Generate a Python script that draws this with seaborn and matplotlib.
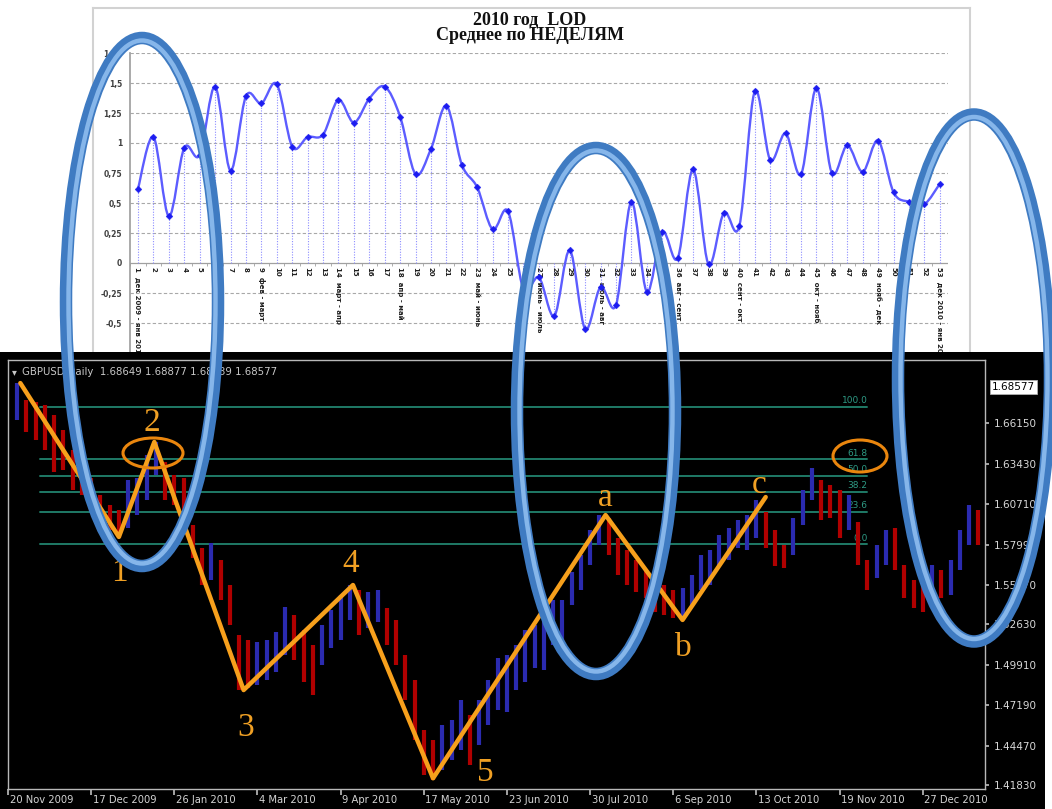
import numpy as np
import pandas as pd
import matplotlib
matplotlib.use("Agg")
import matplotlib.pyplot as plt
import matplotlib.transforms as mtransforms
from matplotlib.patches import Ellipse, PathPatch
from matplotlib.path import Path
import seaborn as sns

sns.set_theme(style="white")
plt.rcParams['font.family'] = ['DejaVu Sans']

# ---------------- top chart data (weekly LOD averages) ----------------
weeks = list(range(1, 54))
lod = [0.62, 1.05, 0.39, 0.96, 0.90, 1.47, 0.77, 1.39, 1.33, 1.49,
       0.97, 1.05, 1.07, 1.36, 1.17, 1.37, 1.47, 1.22, 0.74, 0.95,
       1.31, 0.82, 0.63, 0.28, 0.43, -0.22, -0.12, -0.44, 0.105, -0.55,
       -0.20, -0.35, 0.51, -0.24, 0.26, 0.04, 0.78, -0.01, 0.42, 0.31,
       1.43, 0.86, 1.08, 0.74, 1.46, 0.75, 0.98, 0.76, 1.02, 0.59,
       0.51, 0.49, 0.66]
month_labels = {1: "дек 2009 - янв 2010", 9: "фев - март", 14: "март - апр",
                18: "апр - май", 23: "май - июнь", 27: "июнь - июль",
                31: "июль - авг", 36: "авг - сент", 40: "сент - окт",
                45: "окт - нояб", 49: "нояб - дек", 53: "дек 2010 - янв 2011"}
top_yticks = [-0.5, -0.25, 0, 0.25, 0.5, 0.75, 1, 1.25, 1.5, 1.75]
top_title_1 = "2010 год  LOD"
top_title_2 = "Среднее по НЕДЕЛЯМ"

# ---------------- bottom chart data (GBPUSD daily, sampled every 3 days) ----------------
bar_high = [1.6884, 1.6770, 1.6757, 1.6737, 1.6669, 1.6569, 1.6434, 1.6367, 1.6246, 1.6132,
            1.6065, 1.6031, 1.6233, 1.6246, 1.6401, 1.6488, 1.6354, 1.6266, 1.6246, 1.5930,
            1.5776, 1.5809, 1.5695, 1.5527, 1.5191, 1.5157, 1.5144, 1.5157, 1.5211, 1.5379,
            1.5325, 1.5225, 1.5124, 1.5258, 1.5359, 1.5460, 1.5527, 1.5493, 1.5480, 1.5493,
            1.5372, 1.5292, 1.5057, 1.4889, 1.4553, 1.4485, 1.4586, 1.4620, 1.4754, 1.4653,
            1.4754, 1.4889, 1.5036, 1.5057, 1.5124, 1.5225, 1.5258, 1.5292, 1.5426, 1.5426,
            1.5614, 1.5729, 1.5897, 1.5997, 1.5977, 1.5843, 1.5762, 1.5695, 1.5628, 1.5594,
            1.5527, 1.5493, 1.5507, 1.5594, 1.5729, 1.5762, 1.5863, 1.5910, 1.5964, 1.5997,
            1.6098, 1.6018, 1.5897, 1.5796, 1.5977, 1.6165, 1.6313, 1.6233, 1.6199, 1.6165,
            1.6132, 1.5950, 1.5695, 1.5796, 1.5897, 1.5910, 1.5661, 1.5561, 1.5527, 1.5661,
            1.5628, 1.5695, 1.5897, 1.6065, 1.6031]
bar_low = [1.6636, 1.6555, 1.6501, 1.6434, 1.6286, 1.6300, 1.6165, 1.6132, 1.6031, 1.5964,
           1.5897, 1.5843, 1.5910, 1.5997, 1.6098, 1.6266, 1.6098, 1.6065, 1.5997, 1.5708,
           1.5527, 1.5561, 1.5426, 1.5258, 1.4821, 1.4835, 1.4855, 1.4889, 1.4942, 1.5057,
           1.5023, 1.4875, 1.4788, 1.4989, 1.5104, 1.5157, 1.5292, 1.5191, 1.5238, 1.5278,
           1.5124, 1.4989, 1.4754, 1.4485, 1.4250, 1.4217, 1.4284, 1.4351, 1.4418, 1.4317,
           1.4452, 1.4586, 1.4687, 1.4674, 1.4821, 1.4875, 1.4969, 1.4956, 1.5124, 1.5144,
           1.5393, 1.5493, 1.5661, 1.5796, 1.5729, 1.5594, 1.5527, 1.5480, 1.5440, 1.5346,
           1.5325, 1.5305, 1.5292, 1.5393, 1.5493, 1.5527, 1.5661, 1.5695, 1.5776, 1.5762,
           1.5843, 1.5776, 1.5655, 1.5641, 1.5729, 1.5930, 1.6098, 1.5964, 1.5977, 1.5843,
           1.5897, 1.5661, 1.5493, 1.5574, 1.5661, 1.5628, 1.5440, 1.5372, 1.5346, 1.5460,
           1.5440, 1.5460, 1.5628, 1.5796, 1.5796]
days_per_bar = 3
days_per_date_tick = 27
date_labels = ["20 Nov 2009", "17 Dec 2009", "26 Jan 2010", "4 Mar 2010", "9 Apr 2010",
               "17 May 2010", "23 Jun 2010", "30 Jul 2010", "6 Sep 2010", "13 Oct 2010",
               "19 Nov 2010", "27 Dec 2010"]
price_ticks = [1.66150, 1.63430, 1.60710, 1.57990, 1.55270, 1.52630, 1.49910,
               1.47190, 1.44470, 1.41830]
last_price = 1.68577
header = "GBPUSD,Daily  1.68649 1.68877 1.68439 1.68577"

fib_low, fib_high = 1.5800, 1.6723
fib_levels = [0.0, 23.6, 38.2, 50.0, 61.8, 100.0]
fib_day_range = (10.5, 279)

wave_days = [4, 36, 47.5, 76.5, 112, 138, 194, 219, 246]
wave_prices = [1.6884, 1.5850, 1.6488, 1.4821, 1.5527, 1.4228, 1.5997, 1.5292, 1.6118]
wave_names = ["1", "2", "3", "4", "5", "a", "b", "c"]
wave_label_days = [36.2, 46.8, 77.2, 111.1, 155, 193.8, 219.3, 243.9]
wave_label_prices = [1.5608, 1.6616, 1.4566, 1.5668, 1.4264, 1.6112, 1.5104, 1.6199]

# highlight ellipses (figure pixel units): cx, cy, w, h
blue_rings = [(142, 302, 152, 528), (596, 411, 158, 526), (974, 378, 152, 527)]
orange_rings = [(153, 453, 60, 30), (860, 456, 54, 32)]

# ---------------- figure ----------------
W, H = 1052, 809
fig = plt.figure(figsize=(W / 100, H / 100), dpi=100)
fig.patch.set_facecolor("white")


def rect(x0, y0, x1, y1):
    return [x0 / W, 1 - y1 / H, (x1 - x0) / W, (y1 - y0) / H]


# top chart frame
axf = fig.add_axes(rect(93, 8, 970, 360))
axf.set_zorder(0)
axf.set_xticks([]); axf.set_yticks([])
axf.set_facecolor("white")
for s in axf.spines.values():
    s.set_color("#d2d2d2"); s.set_linewidth(1.5)

axt = fig.add_axes(rect(130.3, 53, 947.5, 353))
axt.set_zorder(1)
axt.patch.set_alpha(0)
axt.set_xlim(0.5, 53.5)
axt.set_ylim(-0.75, 1.75)
axt.set_yticks(top_yticks)
axt.set_yticklabels([("%g" % v).replace(".", ",") for v in top_yticks],
                    fontsize=5.5, color="#404040", fontweight="bold")
axt.tick_params(axis="y", length=0, pad=6)
axt.set_xticks([])
for t in top_yticks:
    if t != 0:
        axt.axhline(t, color="#a8a8a8", lw=0.8, ls=(0, (3, 2)), zorder=0)
axt.axhline(0, color="#a0a0a0", lw=0.9, zorder=1)
for k in ["top", "right", "bottom"]:
    axt.spines[k].set_visible(False)
axt.spines["left"].set_color("#a0a0a0")
axt.vlines(np.arange(0.5, 54, 1), -0.025, 0, color="#a0a0a0", lw=0.6)

axt.vlines(weeks, 0, lod, colors="#8c8cff", linestyles=(0, (1, 1.4)), lw=0.8, zorder=2)


def smooth_path(xs, ys):
    pts = np.column_stack([xs, ys]).astype(float)
    n = len(pts)
    verts = [pts[0]]
    codes = [Path.MOVETO]
    for i in range(n - 1):
        p0 = pts[i - 1] if i > 0 else pts[i]
        p1, p2 = pts[i], pts[i + 1]
        p3 = pts[i + 2] if i + 2 < n else pts[i + 1]
        verts += [p1 + (p2 - p0) / 6, p2 - (p3 - p1) / 6, p2]
        codes += [Path.CURVE4] * 3
    return Path(verts, codes)


axt.add_patch(PathPatch(smooth_path(weeks, lod), fill=False, edgecolor="#5c5cff",
                        lw=1.7, zorder=3))
sns.scatterplot(x=weeks, y=lod, marker="D", s=12, color="#1c1cf0", edgecolor="#1c1cf0",
                ax=axt, zorder=4, legend=False)
for w in weeks:
    lab = str(w) + ("  " + month_labels[w] if w in month_labels else "")
    axt.text(w, -0.035, lab, rotation=-90, ha="center", va="top", fontsize=5,
             fontweight="bold", color="#202020")
axt.set_xlabel(""); axt.set_ylabel("")
fig.text(530 / W, 1 - 20 / H, top_title_1, ha="center", va="center", fontsize=13,
         fontweight="bold", family=["Liberation Serif"], color="#111111")
fig.text(530 / W, 1 - 36 / H, top_title_2, ha="center", va="center", fontsize=13,
         fontweight="bold", family=["Liberation Serif"], color="#111111")

# bottom chart
axbg = fig.add_axes(rect(0, 352, 1045, 809))
axbg.set_zorder(2)
axbg.set_facecolor("black")
axbg.set_xticks([]); axbg.set_yticks([])
for s in axbg.spines.values():
    s.set_visible(False)

axb = fig.add_axes(rect(8, 360, 985, 789))
axb.set_zorder(3)
axb.set_facecolor("black")
axb.set_xlim(1.6, 317.2)
axb.set_ylim(1.4156, 1.7039)
for s in axb.spines.values():
    s.set_color("#b8b8b8"); s.set_linewidth(1)

hi = np.array(bar_high); lo = np.array(bar_low)
days = np.arange(1, len(hi) + 1) * days_per_bar
mid = (hi + lo) / 2
cols = ["#2b2bb0" if (i == 0 or mid[i] >= mid[i - 1]) else "#b00000" for i in range(len(mid))]

span = fib_high - fib_low
for lv in fib_levels:
    p = fib_low + span * lv / 100
    axb.plot(fib_day_range, [p, p], color="#1f7a66", lw=1.4, zorder=1)
    axb.text(fib_day_range[1], p + 0.0012, "%.1f" % lv, ha="right", va="bottom",
             fontsize=6.5, color="#2e9a84", zorder=1)

axb.vlines(days, lo, hi, colors=cols, lw=3.0, zorder=2)

wave_df = pd.DataFrame({"day": wave_days, "price": wave_prices})
sns.lineplot(data=wave_df, x="day", y="price", sort=False, color="#f7a01c", lw=3.2,
             ax=axb, zorder=4, legend=False)
for nm, d, p in zip(wave_names, wave_label_days, wave_label_prices):
    axb.text(d, p, nm, ha="center", va="center", fontsize=24, color="#f0a024",
             family=["Liberation Serif"], zorder=5)
axb.set_xlabel(""); axb.set_ylabel("")

tick_days = [k * days_per_date_tick for k in range(len(date_labels))]
axb.set_xticks(tick_days)
axb.set_xticklabels([])
axb.tick_params(axis="x", direction="out", length=4, color="#b8b8b8", bottom=True)
bt = mtransforms.blended_transform_factory(axb.transData, axb.transAxes)
for d, lab in zip(tick_days, date_labels):
    axb.text(d + 0.5, -0.014, lab, transform=bt, ha="left", va="top", fontsize=7.2,
             color="#d4d4d4", clip_on=False)

axb.yaxis.tick_right()
axb.set_yticks(price_ticks)
axb.set_yticklabels(["%.5f" % v for v in price_ticks], fontsize=7.5, color="#d8d8d8")
axb.tick_params(axis="y", direction="out", length=3, color="#b8b8b8", right=True, pad=3)
rt = mtransforms.blended_transform_factory(axb.transAxes, axb.transData)
axb.text(1.007, last_price, "%.5f" % last_price, transform=rt, ha="left", va="center",
         fontsize=7.5, color="black", clip_on=False,
         bbox=dict(boxstyle="square,pad=0.15", fc="white", ec="#b0b0b0", lw=0.6))
axb.text(0.014, 0.972, header, transform=axb.transAxes, ha="left", va="center",
         fontsize=7.3, color="#c8c8c8")
axb.text(0.004, 0.972, "▾", transform=axb.transAxes, ha="left", va="center",
         fontsize=7, color="#c8c8c8")
axb.grid(False)

# overlay highlight rings
axo = fig.add_axes([0, 0, 1, 1])
axo.set_zorder(6)
axo.patch.set_alpha(0)
axo.set_xlim(0, W); axo.set_ylim(H, 0)
axo.axis("off")
for cx, cy, w, h in blue_rings:
    axo.add_patch(Ellipse((cx, cy), w, h, fill=False, ec="#3f7bc2", lw=9))
    axo.add_patch(Ellipse((cx, cy), w - 5, h - 5, fill=False, ec="#86b6ea", lw=3.2))
for cx, cy, w, h in orange_rings:
    axo.add_patch(Ellipse((cx, cy), w, h, fill=False, ec="#ea860e", lw=2.2))

fig.savefig("out.png", dpi=100, facecolor="white")
